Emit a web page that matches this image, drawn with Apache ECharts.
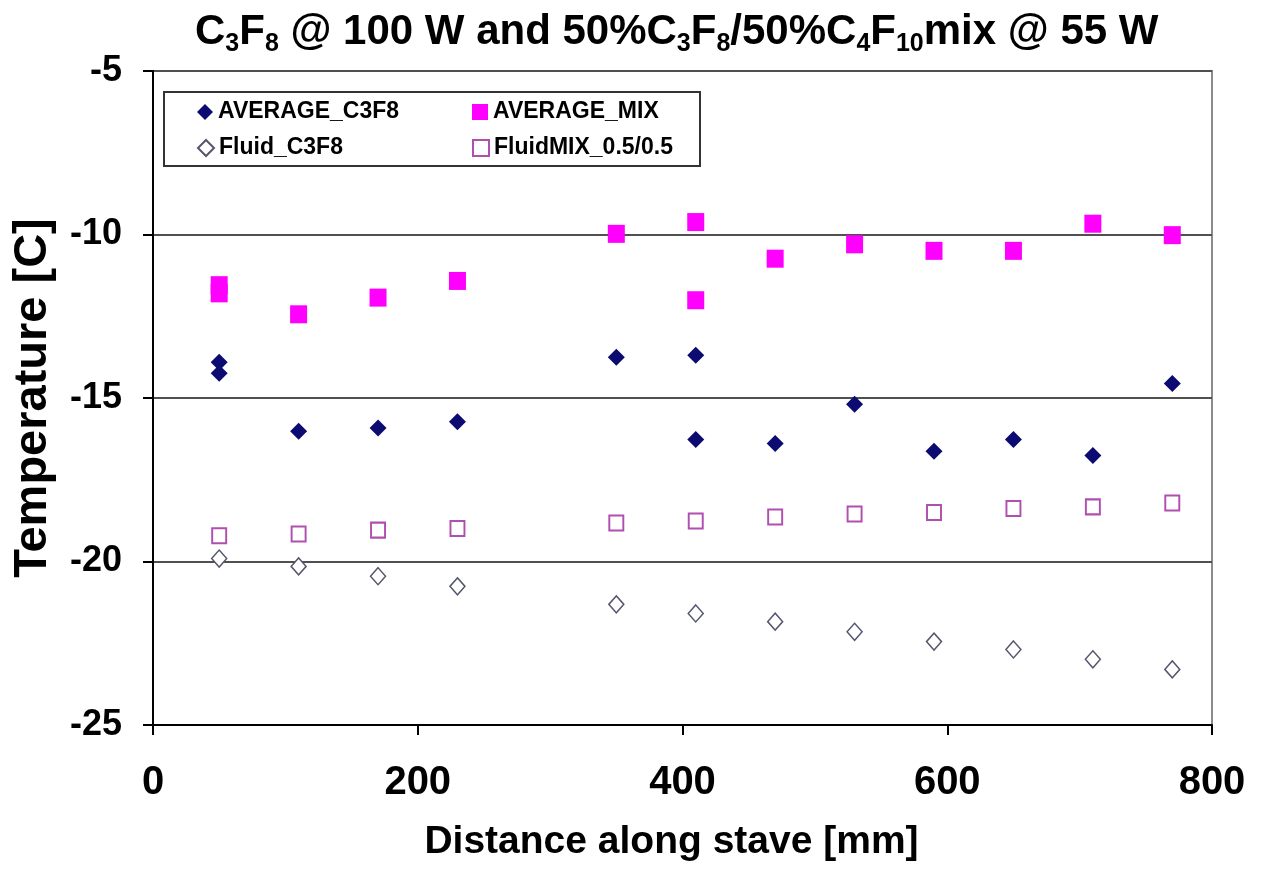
<!DOCTYPE html>
<html>
<head>
<meta charset="utf-8">
<script src="https://cdn.jsdelivr.net/npm/echarts@6/dist/echarts.min.js"></script>
<style>
html,body{margin:0;padding:0;background:#fff;}
#chart{width:1262px;height:870px;}
</style>
</head>
<body>
<div id="chart"></div>
<script>
// ---- data ----
const distAvgC3F8 = [50, 50, 110, 170, 230, 350, 410, 410, 470, 530, 590, 650, 710, 770];
const avgC3F8 = [-13.91, -14.24, -16.02, -15.92, -15.73, -13.75, -13.69, -16.27, -16.39, -15.19, -16.63, -16.27, -16.76, -14.56];
const distAvgMix = [50, 50, 110, 170, 230, 350, 410, 410, 470, 530, 590, 650, 710, 770];
const avgMix = [-11.55, -11.8, -12.44, -11.93, -11.42, -9.98, -9.62, -12.01, -10.74, -10.3, -10.5, -10.5, -9.67, -10.02];
const distFluid = [50, 110, 170, 230, 350, 410, 470, 530, 590, 650, 710, 770];
const fluidC3F8 = [-19.91, -20.15, -20.45, -20.76, -21.31, -21.59, -21.84, -22.15, -22.45, -22.69, -22.99, -23.30];
const fluidMix = [-19.21, -19.16, -19.04, -18.99, -18.82, -18.76, -18.64, -18.55, -18.5, -18.38, -18.33, -18.21];
const seriesNames = ['AVERAGE_C3F8', 'AVERAGE_MIX', 'Fluid_C3F8', 'FluidMIX_0.5/0.5'];
const xTicks = [0, 800, 200];   // min, max, interval
const yTicks = [-25, -5, 5];    // min, max, interval

function pairs(xs, ys) { return xs.map((x, i) => [x, ys[i]]); }

const FONT = '"Liberation Sans", Arial, Helvetica, sans-serif';
const chart = echarts.init(document.getElementById('chart'), null, {renderer: 'canvas'});

const legendCommon = {
  padding: 0, itemWidth: 16, itemHeight: 16, selectedMode: false,
  textStyle: {fontSize: 23, fontWeight: 'bold', fontFamily: FONT, color: '#000', lineHeight: 24}
};

const option = {
  animation: false,
  backgroundColor: '#fff',
  title: {
    left: 190, top: 2,
    text: '{m|C}{s|3}{m|F}{s|8}{m| @ 100 W and 50%C}{s|3}{m|F}{s|8}{m|/50%C}{s|4}{m|F}{s|10}{m|mix @ 55 W}',
    textStyle: {
      rich: {
        m: {fontSize: 42, fontWeight: 'bold', fontFamily: FONT, color: '#000', lineHeight: 50},
        s: {fontSize: 25, fontWeight: 'bold', fontFamily: FONT, color: '#000', verticalAlign: 'bottom', lineHeight: 50}
      }
    }
  },
  grid: {left: 153, top: 71, right: 50, bottom: 145, show: true, borderColor: '#8c8c8c', borderWidth: 2, backgroundColor: 'transparent'},
  xAxis: {
    type: 'value', min: xTicks[0], max: xTicks[1], interval: xTicks[2],
    axisLine: {show: true, onZero: false, lineStyle: {color: '#000', width: 2}},
    axisTick: {show: true, length: 10, lineStyle: {color: '#000', width: 2}},
    splitLine: {show: false},
    axisLabel: {fontSize: 40, fontWeight: 'bold', fontFamily: FONT, color: '#000', margin: 38},
    name: 'Distance along stave [mm]', nameLocation: 'middle', nameGap: 98,
    nameTextStyle: {fontSize: 39, fontWeight: 'bold', fontFamily: FONT, color: '#000', padding: [0, 22, 0, 0]}
  },
  yAxis: {
    type: 'value', min: yTicks[0], max: yTicks[1], interval: yTicks[2],
    axisLine: {show: true, onZero: false, lineStyle: {color: '#000', width: 2}},
    axisTick: {show: true, length: 10, lineStyle: {color: '#000', width: 2}},
    splitLine: {show: true, lineStyle: {color: '#505050', width: 2}},
    axisLabel: {fontSize: 36, fontWeight: 'bold', fontFamily: FONT, color: '#000', margin: 31},
    name: 'Temperature [C]', nameLocation: 'middle', nameGap: 96,
    nameTextStyle: {fontSize: 47, fontWeight: 'bold', fontFamily: FONT, color: '#000'}
  },
  legend: [
    Object.assign({data: [seriesNames[0]], left: 197, top: 100}, legendCommon),
    Object.assign({data: [seriesNames[1]], left: 472, top: 100}, legendCommon),
    Object.assign({data: [seriesNames[2]], left: 197, top: 136}, legendCommon),
    Object.assign({data: [seriesNames[3]], left: 472, top: 136}, legendCommon)
  ],
  graphic: [{
    type: 'rect', z: 0, silent: true,
    shape: {x: 164, y: 92, width: 536, height: 74},
    style: {fill: '#fff', stroke: '#333', lineWidth: 2}
  }],
  series: [
    {name: seriesNames[0], type: 'scatter', data: pairs(distAvgC3F8, avgC3F8), symbol: 'diamond', symbolSize: 17,
     itemStyle: {color: '#0b0b72', opacity: 1}},
    {name: seriesNames[1], type: 'scatter', data: pairs(distAvgMix, avgMix), symbol: 'rect', symbolSize: [17, 18],
     itemStyle: {color: '#ff00ff', opacity: 1}},
    {name: seriesNames[2], type: 'scatter', data: pairs(distFluid, fluidC3F8), symbol: 'diamond', symbolSize: [15, 17],
     itemStyle: {color: '#ffffff', borderColor: '#55556e', borderWidth: 1.5, opacity: 1}},
    {name: seriesNames[3], type: 'scatter', data: pairs(distFluid, fluidMix), symbol: 'rect', symbolSize: [14, 15],
     itemStyle: {color: '#ffffff', borderColor: '#b04fb0', borderWidth: 2, opacity: 1}}
  ]
};
chart.setOption(option);
</script>
</body>
</html>
